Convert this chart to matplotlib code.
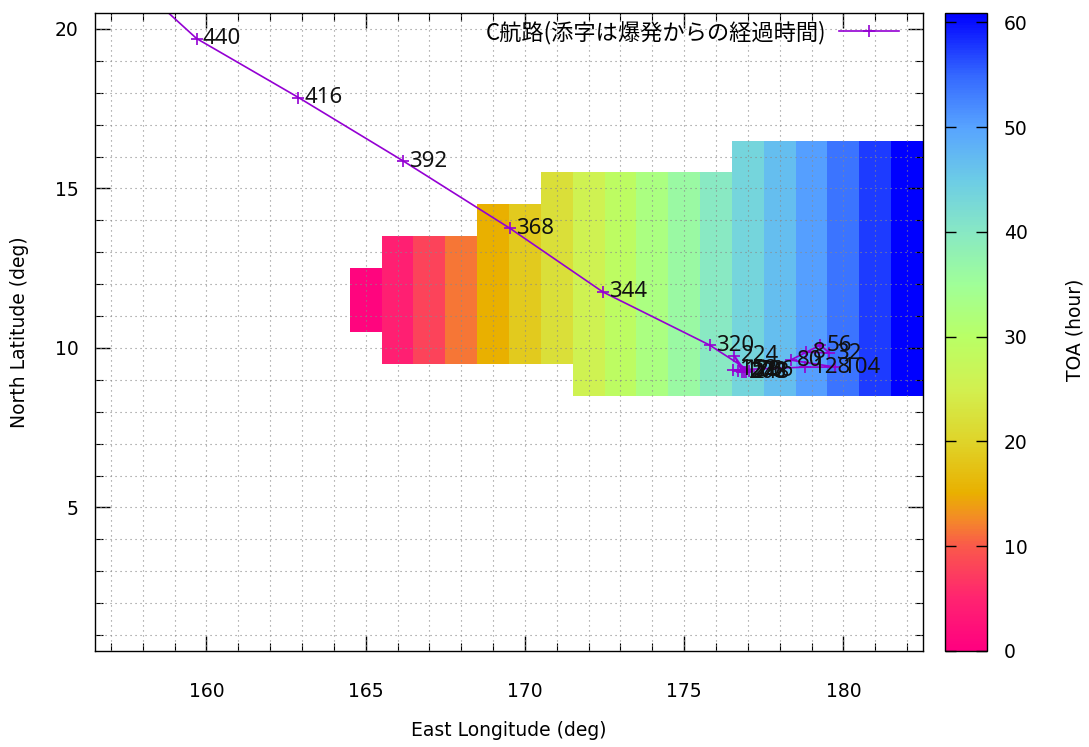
import numpy as np
import matplotlib
matplotlib.use("Agg")
import matplotlib.pyplot as plt
from matplotlib.colors import LinearSegmentedColormap
from matplotlib.lines import Line2D
from matplotlib.font_manager import FontProperties
from matplotlib.ticker import MultipleLocator

# ---------------- data ----------------
lon_centers = [165, 166, 167, 168, 169, 170, 171, 172, 173, 174, 175, 176, 177, 178, 179, 180, 181, 182]
toa_by_lon = [0.9, 4.4, 8.0, 11.5, 15.0, 18.6, 22.1, 25.6, 29.2, 32.7, 36.2, 39.8, 43.3, 46.8, 50.3, 53.9, 57.4, 60.9]
lat_low = [11, 10, 10, 10, 10, 10, 10, 9, 9, 9, 9, 9, 9, 9, 9, 9, 9, 9]
lat_high = [12, 13, 13, 13, 14, 14, 15, 15, 15, 15, 15, 15, 16, 16, 16, 16, 16, 16]
lat_centers = [9, 10, 11, 12, 13, 14, 15, 16]

track_hours = [8, 32, 56, 80, 104, 128, 152, 176, 200, 224, 248, 272, 296, 320, 344, 368, 392, 416, 440, 464]
track_lon = [178.84, 179.56, 179.28, 178.34, 179.75, 178.81, 176.52, 176.68, 176.83, 176.58, 176.93,
             176.88, 177.05, 175.80, 172.44, 169.53, 166.18, 162.89, 159.69, 157.6]
track_lat = [9.87, 9.84, 10.09, 9.62, 9.40, 9.40, 9.31, 9.28, 9.24, 9.75, 9.24,
             9.26, 9.28, 10.09, 11.76, 13.75, 15.86, 17.85, 19.70, 21.6]

legend_label = "C航路(添字は爆発からの経過時間)"
x_ticks = [160, 165, 170, 175, 180]
y_ticks = [5, 10, 15, 20]
cb_ticks = [0, 10, 20, 30, 40, 50, 60]

# ---------------- palette ----------------
pal_vals = [0, 5, 10, 12.5, 15, 20, 25, 30, 35, 40, 45, 50, 55, 60.9]
pal_cols = ["#ff0080", "#ff2470", "#fa5a4a", "#f48a28", "#e9b000", "#dfd42a", "#d2f050",
            "#b9ff66", "#a0ff98", "#88e8c4", "#6ccce6", "#58a4ff", "#3468ff", "#0000ff"]
vmin, vmax = 0, 60.9
cmap = LinearSegmentedColormap.from_list(
    "toa", [((v - vmin) / (vmax - vmin), c) for v, c in zip(pal_vals, pal_cols)])

# grid of values
Z = np.full((len(lat_centers), len(lon_centers)), np.nan)
for i, lon in enumerate(lon_centers):
    for lat in range(lat_low[i], lat_high[i] + 1):
        Z[lat_centers.index(lat), i] = toa_by_lon[i]
Zm = np.ma.masked_invalid(Z)
lon_edges = np.arange(lon_centers[0] - 0.5, lon_centers[-1] + 1.0, 1.0)
lat_edges = np.arange(lat_centers[0] - 0.5, lat_centers[-1] + 1.0, 1.0)

# ---------------- figure ----------------
W, H = 1089, 747
fig = plt.figure(figsize=(W / 100, H / 100), dpi=100)
ax = fig.add_axes([95 / W, 1 - 651 / H, 828 / W, 638 / H])
cax = fig.add_axes([945 / W, 1 - 651 / H, 42 / W, 638 / H])

mesh = ax.pcolormesh(lon_edges, lat_edges, Zm, cmap=cmap, vmin=vmin, vmax=vmax,
                     shading="flat", zorder=1, edgecolors="none", antialiased=False)

ax.set_xlim(156.5, 182.5)
ax.set_ylim(0.5, 20.5)
ax.set_xticks(x_ticks)
ax.set_yticks(y_ticks)
ax.xaxis.set_minor_locator(MultipleLocator(1))
ax.yaxis.set_minor_locator(MultipleLocator(1))

# dotted grid at every degree, drawn on top of the colour cells
grid_kw = dict(color="#8a8a8a", linestyle=(0, (1, 3.5)), linewidth=0.8, zorder=2)
for gx in np.arange(157, 183, 1):
    ax.axvline(gx, **grid_kw)
for gy in np.arange(1, 21, 1):
    ax.axhline(gy, **grid_kw)

ax.tick_params(which="both", direction="in", top=True, right=True, color="black")
ax.tick_params(which="major", length=11, width=1.0, labelsize=13.5, pad=22)
ax.tick_params(which="minor", length=5.5, width=0.8)
ax.tick_params(axis="y", which="major", pad=12)
for sp in ax.spines.values():
    sp.set_linewidth(1.0)
    sp.set_zorder(5)

# track
ax.plot(track_lon, track_lat, color="#9400d3", lw=1.2, marker="+", ms=8, mew=1.2, zorder=4,
        clip_on=True)
for h, x, y in zip(track_hours, track_lon, track_lat):
    ax.annotate(str(h), (x, y), xytext=(4.5, 0), textcoords="offset points",
                ha="left", va="center", fontsize=16, family=["Noto Sans", "DejaVu Sans"],
                color="#111111", annotation_clip=True, zorder=6)

# legend
handle = Line2D([], [], color="#9400d3", lw=1.2, marker="+", ms=8, mew=1.2)
ax.legend([handle], [legend_label], loc="upper right", frameon=False, markerfirst=False,
          prop=FontProperties(family=["Noto Sans CJK JP", "DejaVu Sans"], size=16),
          handlelength=2.7, handletextpad=0.6, borderaxespad=0.0, borderpad=0.1,
          bbox_to_anchor=(0.974, 0.992))

# labels
fig.text(509 / W, 1 - 730 / H, "East Longitude (deg)", ha="center", va="center", fontsize=13.5)
fig.text(20 / W, 1 - 332 / H, "North Latitude (deg)", ha="center", va="center",
         rotation=90, fontsize=13.5)

# colorbar
cb = fig.colorbar(mesh, cax=cax, ticks=cb_ticks)
cb.outline.set_linewidth(1.0)
cax.tick_params(direction="in", left=True, right=True, length=8, width=1.0,
                labelsize=13.5, pad=12)
cax.minorticks_off()
fig.text(1075 / W, 1 - 330 / H, "TOA (hour)", ha="center", va="center", rotation=90,
         fontsize=13.5)

fig.savefig("out.png", dpi=100)
